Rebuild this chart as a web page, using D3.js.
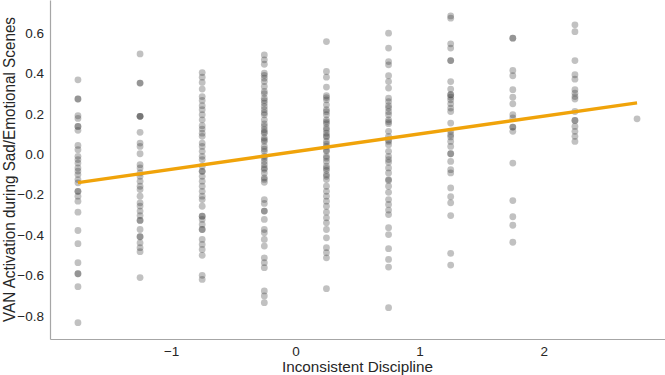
<!DOCTYPE html>
<html>
<head>
<meta charset="utf-8">
<script src="https://cdn.jsdelivr.net/npm/d3@7"></script>
<style>
  body { margin: 0; background: #fff; }
  svg text { font-family: "Liberation Sans", Arial, sans-serif; }
</style>
</head>
<body>
<div id="chart"></div>
<script>
// x positions of the discipline groups
const xGroups = [-1.75, -1.25, -0.75, -0.25, 0.25, 0.75, 1.25, 1.75, 2.25, 2.75];

// VAN activation values, one list per group
const col1 = [0.368, 0.273, 0.273, 0.19, 0.177, 0.137, 0.137, 0.118, 0.043, 0.022, -0.011, -0.027, -0.044,
  -0.068, -0.084, -0.101, -0.126, -0.142, -0.184, -0.184, -0.208, -0.233, -0.287, -0.378, -0.443,
  -0.537, -0.592, -0.592, -0.656, -0.834];
const col2 = [0.496, 0.352, 0.352, 0.187, 0.187, 0.187, 0.108, 0.055, 0.038, 0.002, -0.052, -0.068, -0.093,
  -0.110, -0.134, -0.159, -0.175, -0.208, -0.241, -0.257, -0.282, -0.304, -0.328, -0.328, -0.373,
  -0.409, -0.409, -0.439, -0.463, -0.483, -0.611];
const col3 = [0.404, 0.381, 0.355, 0.322, 0.285, 0.266, 0.240, 0.220, 0.195, 0.170, 0.141, 0.124, 0.104,
  0.088, 0.055, 0.038, 0.014, -0.011, -0.027, -0.060, -0.085, -0.085, -0.110, -0.134, -0.159, -0.184,
  -0.208, -0.225, -0.258, -0.307, -0.307, -0.323, -0.348, -0.373, -0.373, -0.422, -0.447, -0.472,
  -0.501, -0.600, -0.620];
const col4 = [0.491, 0.467, 0.401, 0.376, 0.359, 0.335, 0.310, 0.277, 0.253, 0.236, 0.220, 0.195, 0.170,
  0.137, 0.121, 0.104, 0.080, 0.063, 0.038, 0.014, -0.011, -0.036, -0.052, -0.068, -0.093, -0.117,
  -0.139, 0.445, 0.39, 0.30, 0.265, 0.205, 0.15, 0.11, 0.07, 0.025, -0.02, -0.075, -0.125,
  -0.225, -0.244, -0.282, -0.282, -0.323, -0.373, -0.389, -0.422, -0.455, -0.513, -0.537, -0.562,
  -0.677, -0.702, -0.735];
const col5 = [0.557, 0.409, 0.381, 0.332, 0.289, 0.269, 0.244, 0.220, 0.195, 0.170, 0.151, 0.130, 0.104,
  0.085, 0.063, 0.038, 0.014, -0.011, -0.036, -0.060, -0.080, -0.101, -0.126, 0.28, 0.21, 0.16,
  0.12, 0.09, 0.05, 0.02, -0.02, -0.07, -0.11, -0.159, -0.184, -0.208, -0.233, -0.258, -0.287,
  -0.315, -0.340, -0.373, -0.414, -0.463, -0.488, -0.513, -0.666];
const col6 = [0.599, 0.525, 0.458, 0.442, 0.388, 0.359, 0.327, 0.277, 0.240, 0.228, 0.195, 0.170, 0.151,
  0.113, 0.088, 0.063, 0.047, 0.014, -0.011, -0.027, -0.068, -0.093, -0.126, -0.159, -0.189,
  0.26, 0.21, 0.16, 0.07, -0.04, -0.13, -0.225, -0.249, -0.277, -0.299, -0.364, -0.398, -0.468,
  -0.521, -0.559, -0.760];
const col7 = [0.684, 0.673, 0.546, 0.525, 0.463, 0.463, 0.359, 0.322, 0.294, 0.294, 0.282, 0.269, 0.249,
  0.228, 0.211, 0.154, 0.113, 0.096, 0.085, 0.063, 0.038, 0.002, 0.002, -0.036, -0.077, -0.093,
  -0.167, -0.211, -0.241, -0.304, -0.491, -0.549];
const col8 = [0.574, 0.574, 0.414, 0.388, 0.319, 0.282, 0.249, 0.195, 0.179, 0.134, 0.134, 0.113, -0.044,
  -0.230, -0.310, -0.352, -0.436];
const col9 = [0.640, 0.606, 0.463, 0.393, 0.371, 0.319, 0.302, 0.285, 0.273, 0.211, 0.167, 0.167, 0.137,
  0.113, 0.088, 0.063];
const col10 = [0.175];
const columns = [col1, col2, col3, col4, col5, col6, col7, col8, col9, col10];

// fitted regression line (ends)
const fitX = [-1.75, 2.75];
const fitY = [-0.141, 0.254];

const xTicks = [-1, 0, 1, 2];
const yTicks = [-0.8, -0.6, -0.4, -0.2, 0.0, 0.2, 0.4, 0.6];

const points = [];
columns.forEach(function(col, i) {
  col.forEach(function(v) { points.push({ x: xGroups[i], y: v }); });
});

// dimensions and margins
const W = 665, H = 375;
const margin = { top: 0, right: 0, bottom: 36, left: 50 };
const width = W - margin.left - margin.right;
const height = H - margin.top - margin.bottom;

const svg = d3.select("#chart").append("svg")
    .attr("width", W)
    .attr("height", H);
const g = svg.append("g")
    .attr("transform", "translate(" + margin.left + "," + margin.top + ")");

const x = d3.scaleLinear().domain([-1.975, 2.975]).range([0, width]);
const y = d3.scaleLinear().domain([-0.915, 0.763]).range([height, 0]);

// axes (no tick marks, seaborn white style)
const xAxis = g.append("g")
    .attr("transform", "translate(0," + height + ")")
    .call(d3.axisBottom(x).tickValues(xTicks).tickSize(0).tickPadding(7)
      .tickFormat(d => d < 0 ? "\u2212" + Math.abs(d) : String(d)));
const yAxis = g.append("g")
    .call(d3.axisLeft(y).tickValues(yTicks).tickSize(0).tickPadding(6)
      .tickFormat(d => (d < 0 ? "\u2212" : "") + Math.abs(d).toFixed(1)));
[xAxis, yAxis].forEach(function(a) {
  a.select(".domain").attr("stroke", "#a6a6a6").attr("stroke-width", 1.2);
  a.selectAll("text")
    .attr("font-family", "'Liberation Sans', Arial, sans-serif")
    .attr("font-size", "13.5px")
    .attr("fill", "#262626");
});

// scatter points
g.selectAll("circle.pt")
  .data(points)
  .enter()
  .append("circle")
    .attr("class", "pt")
    .attr("cx", d => x(d.x))
    .attr("cy", d => y(d.y))
    .attr("r", 3.4)
    .attr("fill", "#333")
    .attr("fill-opacity", 0.3);

// regression line
g.append("path")
  .datum(fitX.map((v, i) => ({ x: v, y: fitY[i] })))
  .attr("fill", "none")
  .attr("stroke", "#f0a30a")
  .attr("stroke-width", 3.4)
  .attr("d", d3.line().x(d => x(d.x)).y(d => y(d.y)));

// axis labels
svg.append("text")
  .attr("text-anchor", "middle")
  .attr("font-size", "15.5px")
  .attr("fill", "#262626")
  .attr("x", margin.left + width / 2)
  .attr("y", 372)
  .attr("textLength", 151)
  .attr("lengthAdjust", "spacingAndGlyphs")
  .text("Inconsistent Discipline");

svg.append("text")
  .attr("text-anchor", "middle")
  .attr("font-size", "16px")
  .attr("fill", "#262626")
  .attr("transform", "translate(15," + (margin.top + height / 2) + ") rotate(-90)")
  .attr("textLength", 305)
  .attr("lengthAdjust", "spacingAndGlyphs")
  .text("VAN Activation during Sad/Emotional Scenes");
</script>
</body>
</html>
